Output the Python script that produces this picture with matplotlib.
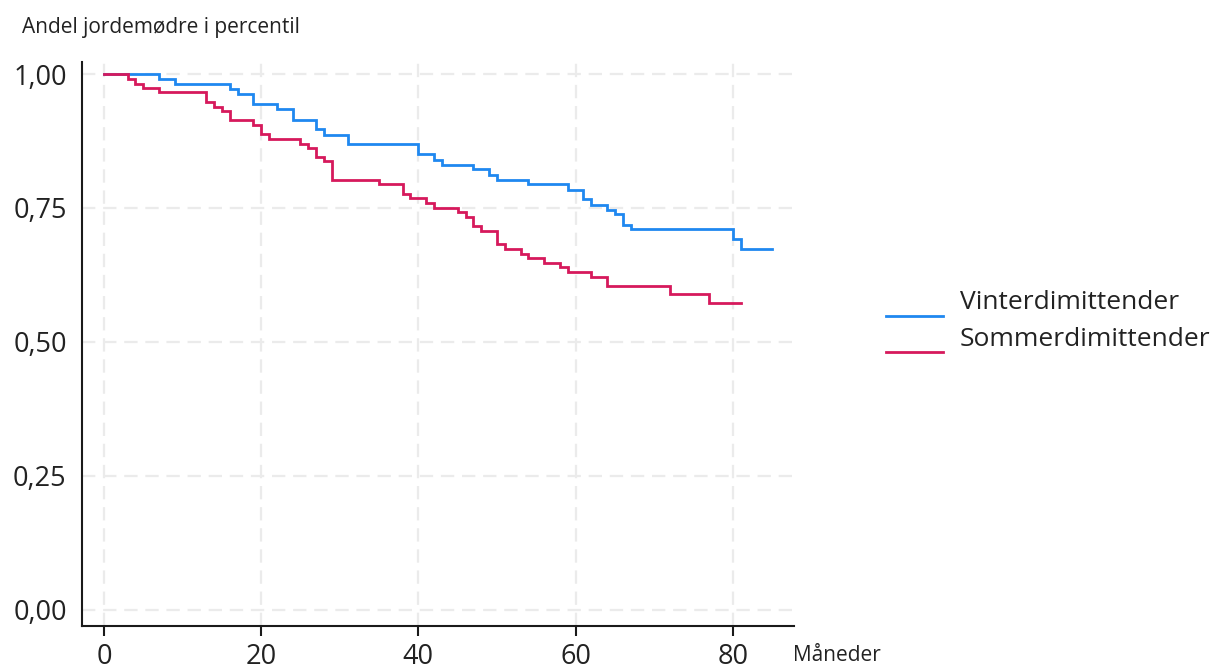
import matplotlib
matplotlib.use("Agg")
import matplotlib.pyplot as plt
from matplotlib.lines import Line2D

plt.rcParams['font.family'] = ['Open Sans', 'DejaVu Sans']

# Kaplan-Meier style step curves: event times (months) and survival levels
vinter_tid = [0, 7, 9, 16, 17, 19, 22, 24, 27, 28, 31, 40, 42, 43, 47, 49, 50,
              54, 59, 61, 62, 64, 65, 66, 67, 80, 81, 85]
vinter_andel = [1.000, 0.991, 0.981, 0.972, 0.963, 0.944, 0.934, 0.915, 0.897,
                0.887, 0.869, 0.850, 0.840, 0.831, 0.822, 0.812, 0.803, 0.794,
                0.784, 0.766, 0.756, 0.747, 0.738, 0.719, 0.710, 0.692, 0.673,
                0.673]

sommer_tid = [0, 3, 4, 5, 7, 13, 14, 15, 16, 19, 20, 21, 25, 26, 27, 28, 29,
              35, 38, 39, 41, 42, 45, 46, 47, 48, 50, 51, 53, 54, 56, 58, 59,
              62, 64, 72, 77, 81]
sommer_andel = [1.000, 0.991, 0.982, 0.973, 0.966, 0.947, 0.939, 0.931, 0.914,
                0.905, 0.888, 0.879, 0.870, 0.862, 0.845, 0.837, 0.803, 0.794,
                0.776, 0.768, 0.759, 0.750, 0.742, 0.733, 0.716, 0.708, 0.682,
                0.674, 0.665, 0.657, 0.648, 0.640, 0.631, 0.622, 0.605, 0.589,
                0.572, 0.572]

serier = ["Vinterdimittender", "Sommerdimittender"]
farger = ["#1f88f0", "#d6195c"]

x_ticks = [0, 20, 40, 60, 80]
y_ticks = [0.0, 0.25, 0.50, 0.75, 1.0]
y_labels = ["0,00", "0,25", "0,50", "0,75", "1,00"]

W, H = 1217, 666
fig = plt.figure(figsize=(W / 100, H / 100), dpi=100)
ax = fig.add_axes([82 / W, (H - 626) / H, (794 - 82) / W, (626 - 62) / H])

grid_kw = dict(color="#ebebeb", lw=1.6, dashes=(6, 3.5), zorder=0)
for xv in x_ticks:
    ax.axvline(xv, **grid_kw)
for yv in y_ticks:
    ax.axhline(yv, **grid_kw)

for tid, andel, farge in [(vinter_tid, vinter_andel, farger[0]),
                          (sommer_tid, sommer_andel, farger[1])]:
    ax.plot(tid, andel, drawstyle="steps-post", color=farge, lw=2.0,
            solid_joinstyle="miter", zorder=3)

ax.set_xlim(-2.8, 87.8)
ax.set_ylim(-0.0299, 1.0224)

for s in ["top", "right"]:
    ax.spines[s].set_visible(False)
for s in ["left", "bottom"]:
    ax.spines[s].set_color("#1a1a1a")
    ax.spines[s].set_linewidth(1.5)

ax.set_xticks(x_ticks)
ax.set_xticklabels([str(v) for v in x_ticks])
ax.set_yticks(y_ticks)
ax.set_yticklabels(y_labels)
ax.tick_params(axis="x", length=7, width=1.5, color="#1a1a1a", pad=5,
               labelsize=19.5, labelcolor="#222222")
ax.tick_params(axis="y", length=0, pad=11, labelsize=19.5, labelcolor="#222222")

fig.text(22 / W, 1 - 33.5 / H, "Andel jordemødre i percentil", fontsize=15,
         color="#222222", ha="left", va="baseline")
fig.text(793 / W, 1 - 661 / H, "Måneder", fontsize=15, color="#222222",
         ha="left", va="baseline")

# legend keys drawn in figure space
for i, (navn, farge) in enumerate(zip(serier, farger)):
    y_line = 1 - (315.5 + 36.5 * i) / H
    fig.add_artist(Line2D([886 / W, 943 / W], [y_line, y_line],
                          transform=fig.transFigure, color=farge, lw=2.0))
    fig.text(960 / W, 1 - (309 + 37.5 * i) / H, navn, fontsize=19,
             color="#222222", ha="left", va="baseline")

fig.savefig("out.png", dpi=100)
